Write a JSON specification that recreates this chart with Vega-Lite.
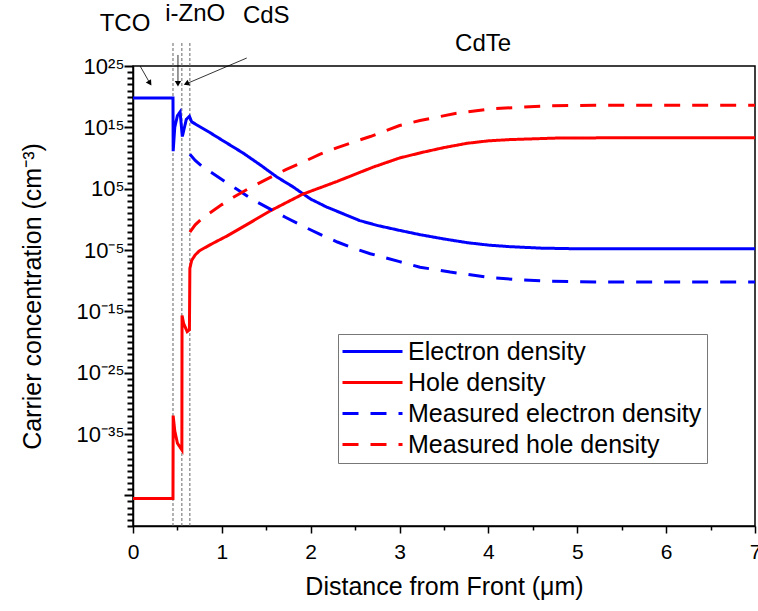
{
  "$schema": "https://vega.github.io/schema/vega-lite/v6.json",
  "width": 622,
  "height": 460,
  "autosize": {"type": "none"},
  "padding": {"left": 133, "top": 66, "right": 3, "bottom": 85},
  "background": "white",
  "config": {
    "font": "Liberation Sans",
    "view": {"stroke": "#000", "strokeWidth": 1.5},
    "axis": {"grid": false, "domainColor": "#000", "domainWidth": 1.5, "tickColor": "#000", "tickWidth": 2, "tickOpacity": 1, "labelColor": "#000", "titleColor": "#000", "labelFont": "Liberation Sans", "titleFont": "Liberation Sans", "titleFontWeight": "normal"}
  },
  "datasets": {
    "curves": [
      {"x": 0, "n": 6.3e19, "series": "Electron density"},
      {"x": 0.45, "n": 6.3e19, "series": "Electron density"},
      {"x": 0.452, "n": 1.26e11, "series": "Electron density"},
      {"x": 0.47, "n": 1e15, "series": "Electron density"},
      {"x": 0.5, "n": 7.9e16, "series": "Electron density"},
      {"x": 0.53, "n": 3.2e17, "series": "Electron density"},
      {"x": 0.555, "n": 3.2e13, "series": "Electron density"},
      {"x": 0.6, "n": 2e16, "series": "Electron density"},
      {"x": 0.635, "n": 6.3e16, "series": "Electron density"},
      {"x": 0.66, "n": 7.9e15, "series": "Electron density"},
      {"x": 0.87, "n": 1.26e14, "series": "Electron density"},
      {"x": 1.06, "n": 2.5e12, "series": "Electron density"},
      {"x": 1.24, "n": 6.3e10, "series": "Electron density"},
      {"x": 1.43, "n": 7.9e8, "series": "Electron density"},
      {"x": 1.62, "n": 7.9e6, "series": "Electron density"},
      {"x": 1.8, "n": 2e5, "series": "Electron density"},
      {"x": 1.91, "n": 1.58e4, "series": "Electron density"},
      {"x": 2.0, "n": 2e3, "series": "Electron density"},
      {"x": 2.18, "n": 100, "series": "Electron density"},
      {"x": 2.4, "n": 5, "series": "Electron density"},
      {"x": 2.55, "n": 0.63, "series": "Electron density"},
      {"x": 2.75, "n": 0.1, "series": "Electron density"},
      {"x": 3.0, "n": 0.0158, "series": "Electron density"},
      {"x": 3.23, "n": 0.00316, "series": "Electron density"},
      {"x": 3.5, "n": 6.3e-4, "series": "Electron density"},
      {"x": 3.76, "n": 1.58e-4, "series": "Electron density"},
      {"x": 4.0, "n": 6.3e-5, "series": "Electron density"},
      {"x": 4.24, "n": 3.5e-5, "series": "Electron density"},
      {"x": 4.6, "n": 2e-5, "series": "Electron density"},
      {"x": 5.0, "n": 1.58e-5, "series": "Electron density"},
      {"x": 6.0, "n": 1.58e-5, "series": "Electron density"},
      {"x": 7.0, "n": 1.58e-5, "series": "Electron density"},

      {"x": 0, "n": 3.16e-46, "series": "Hole density"},
      {"x": 0.45, "n": 3.16e-46, "series": "Hole density"},
      {"x": 0.452, "n": 1e-32, "series": "Hole density"},
      {"x": 0.47, "n": 3.16e-35, "series": "Hole density"},
      {"x": 0.5, "n": 3.16e-37, "series": "Hole density"},
      {"x": 0.55, "n": 2.5e-38, "series": "Hole density"},
      {"x": 0.552, "n": 2e-16, "series": "Hole density"},
      {"x": 0.57, "n": 1e-17, "series": "Hole density"},
      {"x": 0.61, "n": 5e-19, "series": "Hole density"},
      {"x": 0.635, "n": 1e-18, "series": "Hole density"},
      {"x": 0.64, "n": 1e-8, "series": "Hole density"},
      {"x": 0.66, "n": 2e-7, "series": "Hole density"},
      {"x": 0.7, "n": 1.58e-6, "series": "Hole density"},
      {"x": 0.75, "n": 7.9e-6, "series": "Hole density"},
      {"x": 0.9, "n": 1.26e-4, "series": "Hole density"},
      {"x": 1.06, "n": 2e-3, "series": "Hole density"},
      {"x": 1.3, "n": 0.2, "series": "Hole density"},
      {"x": 1.54, "n": 22.4, "series": "Hole density"},
      {"x": 1.91, "n": 1.26e4, "series": "Hole density"},
      {"x": 2.3, "n": 1.58e6, "series": "Hole density"},
      {"x": 2.7, "n": 3.16e8, "series": "Hole density"},
      {"x": 3.0, "n": 1e10, "series": "Hole density"},
      {"x": 3.25, "n": 7.9e10, "series": "Hole density"},
      {"x": 3.5, "n": 5e11, "series": "Hole density"},
      {"x": 3.76, "n": 2.5e12, "series": "Hole density"},
      {"x": 4.0, "n": 6.3e12, "series": "Hole density"},
      {"x": 4.24, "n": 1e13, "series": "Hole density"},
      {"x": 4.77, "n": 1.78e13, "series": "Hole density"},
      {"x": 5.5, "n": 2e13, "series": "Hole density"},
      {"x": 7.0, "n": 2e13, "series": "Hole density"},

      {"x": 0.64, "n": 4e10, "series": "Measured electron density"},
      {"x": 0.7, "n": 4e9, "series": "Measured electron density"},
      {"x": 0.79, "n": 3.16e8, "series": "Measured electron density"},
      {"x": 1.0, "n": 3.16e6, "series": "Measured electron density"},
      {"x": 1.17, "n": 7.9e4, "series": "Measured electron density"},
      {"x": 1.35, "n": 1.58e3, "series": "Measured electron density"},
      {"x": 1.54, "n": 50, "series": "Measured electron density"},
      {"x": 1.72, "n": 2, "series": "Measured electron density"},
      {"x": 1.91, "n": 0.079, "series": "Measured electron density"},
      {"x": 2.1, "n": 0.004, "series": "Measured electron density"},
      {"x": 2.3, "n": 2e-4, "series": "Measured electron density"},
      {"x": 2.5, "n": 1.58e-5, "series": "Measured electron density"},
      {"x": 2.67, "n": 2.5e-6, "series": "Measured electron density"},
      {"x": 3.0, "n": 1.26e-7, "series": "Measured electron density"},
      {"x": 3.23, "n": 1.58e-8, "series": "Measured electron density"},
      {"x": 3.57, "n": 2.5e-9, "series": "Measured electron density"},
      {"x": 4.02, "n": 3.16e-10, "series": "Measured electron density"},
      {"x": 4.4, "n": 1.26e-10, "series": "Measured electron density"},
      {"x": 4.69, "n": 7.9e-11, "series": "Measured electron density"},
      {"x": 5.2, "n": 6.3e-11, "series": "Measured electron density"},
      {"x": 7.0, "n": 6.3e-11, "series": "Measured electron density"},

      {"x": 0.64, "n": 7.9e-3, "series": "Measured hole density"},
      {"x": 0.7, "n": 0.126, "series": "Measured hole density"},
      {"x": 0.79, "n": 2, "series": "Measured hole density"},
      {"x": 1.0, "n": 251, "series": "Measured hole density"},
      {"x": 1.13, "n": 3980, "series": "Measured hole density"},
      {"x": 1.3, "n": 1e5, "series": "Measured hole density"},
      {"x": 1.54, "n": 6.3e6, "series": "Measured hole density"},
      {"x": 1.72, "n": 1.26e8, "series": "Measured hole density"},
      {"x": 1.91, "n": 2e9, "series": "Measured hole density"},
      {"x": 2.1, "n": 4e10, "series": "Measured hole density"},
      {"x": 2.3, "n": 5e11, "series": "Measured hole density"},
      {"x": 2.5, "n": 5e12, "series": "Measured hole density"},
      {"x": 2.67, "n": 3.16e13, "series": "Measured hole density"},
      {"x": 3.0, "n": 2e15, "series": "Measured hole density"},
      {"x": 3.23, "n": 1.26e16, "series": "Measured hole density"},
      {"x": 3.64, "n": 2e17, "series": "Measured hole density"},
      {"x": 4.02, "n": 1e18, "series": "Measured hole density"},
      {"x": 4.4, "n": 2e18, "series": "Measured hole density"},
      {"x": 4.69, "n": 3.16e18, "series": "Measured hole density"},
      {"x": 5.2, "n": 4e18, "series": "Measured hole density"},
      {"x": 7.0, "n": 4e18, "series": "Measured hole density"}
    ],
    "bounds": [
      {"x": 0.45, "lo": 1e-50, "hi": 5.6e28},
      {"x": 0.55, "lo": 1e-50, "hi": 5.6e28},
      {"x": 0.64, "lo": 1e-50, "hi": 5.6e28}
    ],
    "arrows": [
      {"arrow": "TCO", "x": 0.08, "n": 1e25, "part": "tail"},
      {"arrow": "TCO", "x": 0.19, "n": 1.58e22, "part": "tip"},
      {"arrow": "i-ZnO", "x": 0.506, "n": 6.3e26, "part": "tail"},
      {"arrow": "i-ZnO", "x": 0.506, "n": 1.26e22, "part": "tip"},
      {"arrow": "CdS", "x": 1.28, "n": 2e26, "part": "tail"},
      {"arrow": "CdS", "x": 0.6, "n": 1.26e22, "part": "tip"}
    ],
    "layers": [
      {"name": "TCO", "x": -0.09, "n": 6.3e31},
      {"name": "i-ZnO", "x": 0.7, "n": 2.5e33},
      {"name": "CdS", "x": 1.5, "n": 1.26e33},
      {"name": "CdTe", "x": 3.94, "n": 3.98e28}
    ]
  },
  "layer": [
    {
      "data": {"name": "bounds"},
      "mark": {"type": "rule", "color": "#666", "strokeWidth": 1, "strokeDash": [3, 2]},
      "encoding": {
        "x": {"field": "x", "type": "quantitative", "scale": {"domain": [0, 7], "nice": false}},
        "y": {"field": "lo", "type": "quantitative", "scale": {"type": "log", "domain": [1e-50, 1e25], "nice": false}},
        "y2": {"field": "hi"}
      }
    },
    {
      "data": {"name": "curves"},
      "mark": {"type": "line", "strokeWidth": 3, "clip": true},
      "encoding": {
        "x": {
          "field": "x", "type": "quantitative",
          "scale": {"domain": [0, 7], "nice": false},
          "axis": {
            "orient": "bottom",
            "title": "Distance from Front (μm)",
            "values": [0, 0.5, 1, 1.5, 2, 2.5, 3, 3.5, 4, 4.5, 5, 5.5, 6, 6.5, 7],
            "labelExpr": "datum.value % 1 == 0 ? '' + datum.value : ''",
            "tickCount": 20,
            "tickSize": {"condition": {"test": "datum.value % 1 == 0", "value": 7}, "value": 4},
            "tickWidth": 1.5,
            "labelFontSize": 21, "labelPadding": 8, "titleFontSize": 25, "titlePadding": 12, "labelFlush": false, "labelOverlap": false
          }
        },
        "y": {
          "field": "n", "type": "quantitative",
          "scale": {"type": "log", "domain": [1e-50, 1e25], "nice": false},
          "axis": {
            "orient": "left",
            "title": "Carrier concentration (cm⁻³)",
            "values": [1e25, 1e24, 1e23, 1e22, 1e21, 1e20, 1e19, 1e18, 1e17, 1e16, 1e15, 1e14, 1e13, 1e12, 1e11, 1e10, 1e9, 1e8, 1e7, 1e6, 1e5, 1e4, 1e3, 1e2, 1e1, 1, 1e-1, 1e-2, 1e-3, 1e-4, 1e-5, 1e-6, 1e-7, 1e-8, 1e-9, 1e-10, 1e-11, 1e-12, 1e-13, 1e-14, 1e-15, 1e-16, 1e-17, 1e-18, 1e-19, 1e-20, 1e-21, 1e-22, 1e-23, 1e-24, 1e-25, 1e-26, 1e-27, 1e-28, 1e-29, 1e-30, 1e-31, 1e-32, 1e-33, 1e-34, 1e-35, 1e-36, 1e-37, 1e-38, 1e-39, 1e-40, 1e-41, 1e-42, 1e-43, 1e-44, 1e-45, 1e-46, 1e-47, 1e-48, 1e-49, 1e-50],
            "tickCount": 100,
            "labelExpr": "round(log(datum.value)/LN10) == 25 ? '10²⁵' : round(log(datum.value)/LN10) == 15 ? '10¹⁵' : round(log(datum.value)/LN10) == 5 ? '10⁵' : round(log(datum.value)/LN10) == -5 ? '10⁻⁵' : round(log(datum.value)/LN10) == -15 ? '10⁻¹⁵' : round(log(datum.value)/LN10) == -25 ? '10⁻²⁵' : round(log(datum.value)/LN10) == -35 ? '10⁻³⁵' : ''",
            "tickSize": {"condition": {"test": "abs(round(log(datum.value)/LN10) % 10) == 5", "value": 9}, "value": 6},
            "tickWidth": 2,
            "labelFontSize": 22, "labelPadding": 0, "titleFontSize": 25, "titlePadding": 31, "labelFlush": false, "labelOverlap": false
          }
        },
        "color": {
          "field": "series", "type": "nominal",
          "scale": {"domain": ["Electron density", "Hole density", "Measured electron density", "Measured hole density"], "range": ["#0000ff", "#ff0000", "#0000ff", "#ff0000"]},
          "legend": {
            "title": null, "orient": "none", "legendX": 205, "legendY": 268,
            "symbolType": "M-3,0H3", "symbolSize": 400, "symbolStrokeWidth": 3, "symbolOffset": 17,
            "labelFontSize": 25, "labelFont": "Liberation Sans", "labelColor": "#000", "labelLimit": 500, "labelOffset": 23,
            "strokeColor": "#777", "fillColor": "white", "padding": 5, "rowPadding": 5
          }
        },
        "strokeDash": {
          "field": "series", "type": "nominal",
          "scale": {"domain": ["Electron density", "Hole density", "Measured electron density", "Measured hole density"], "range": [[1, 0], [1, 0], [16, 12], [16, 12]]},
          "legend": {
            "title": null, "orient": "none", "legendX": 205, "legendY": 268,
            "symbolType": "M-3,0H3", "symbolSize": 400, "symbolStrokeWidth": 3, "symbolOffset": 17,
            "labelFontSize": 25, "labelFont": "Liberation Sans", "labelColor": "#000", "labelLimit": 500, "labelOffset": 23,
            "strokeColor": "#777", "fillColor": "white", "padding": 5, "rowPadding": 5
          }
        }
      }
    },
    {
      "data": {"name": "arrows"},
      "mark": {"type": "line", "color": "#000", "strokeWidth": 0.8},
      "encoding": {
        "x": {"field": "x", "type": "quantitative"},
        "y": {"field": "n", "type": "quantitative"},
        "detail": {"field": "arrow"}
      }
    },
    {
      "data": {"name": "arrows"},
      "transform": [{"filter": "datum.part == 'tip' && datum.arrow == 'TCO'"}],
      "mark": {"type": "point", "shape": "triangle-up", "filled": true, "color": "#000", "size": 40, "opacity": 1, "angle": 147},
      "encoding": {"x": {"field": "x", "type": "quantitative"}, "y": {"field": "n", "type": "quantitative"}}
    },
    {
      "data": {"name": "arrows"},
      "transform": [{"filter": "datum.part == 'tip' && datum.arrow == 'i-ZnO'"}],
      "mark": {"type": "point", "shape": "triangle-up", "filled": true, "color": "#000", "size": 40, "opacity": 1, "angle": 180},
      "encoding": {"x": {"field": "x", "type": "quantitative"}, "y": {"field": "n", "type": "quantitative"}}
    },
    {
      "data": {"name": "arrows"},
      "transform": [{"filter": "datum.part == 'tip' && datum.arrow == 'CdS'"}],
      "mark": {"type": "point", "shape": "triangle-up", "filled": true, "color": "#000", "size": 40, "opacity": 1, "angle": 247},
      "encoding": {"x": {"field": "x", "type": "quantitative"}, "y": {"field": "n", "type": "quantitative"}}
    },
    {
      "data": {"name": "layers"},
      "mark": {"type": "text", "fontSize": 24, "font": "Liberation Sans", "color": "#000", "baseline": "middle", "align": "center"},
      "encoding": {
        "x": {"field": "x", "type": "quantitative"},
        "y": {"field": "n", "type": "quantitative"},
        "text": {"field": "name"}
      }
    }
  ]
}
